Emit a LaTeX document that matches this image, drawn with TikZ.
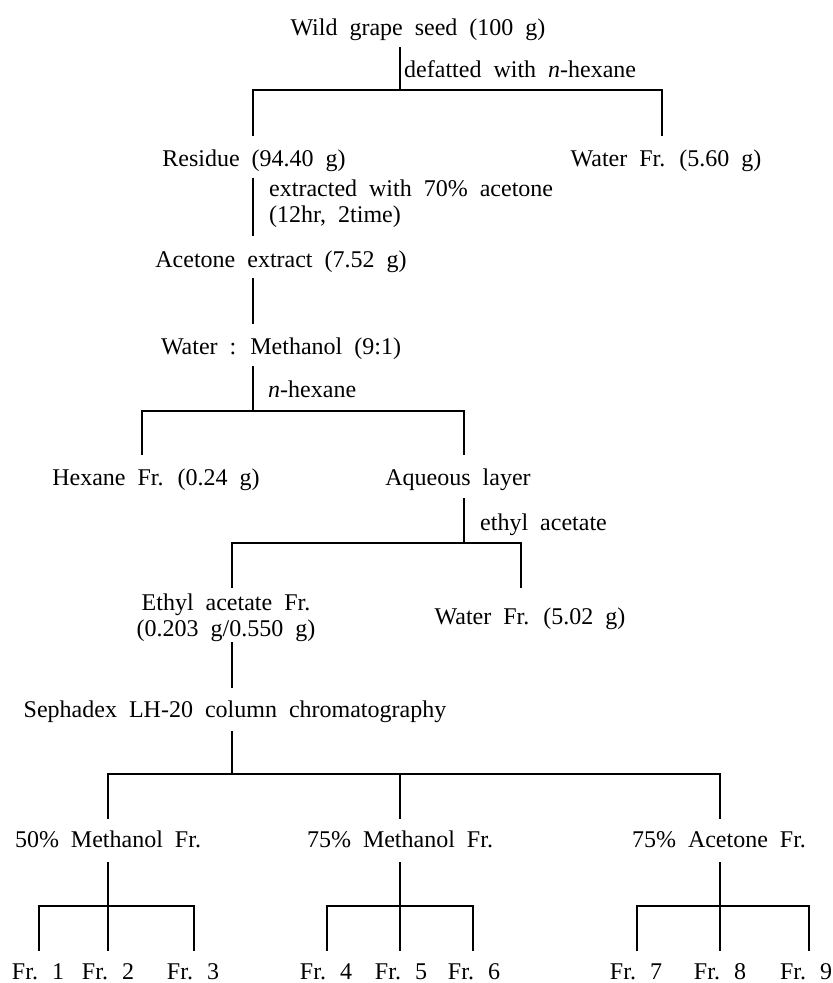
\documentclass[tikz,border=0pt]{standalone}
\usepackage{fontspec}
\setmainfont[WordSpace=2]{Liberation Serif}
\tikzset{
  lbl/.style={inner sep=0pt, anchor=base, font=\fontsize{24}{25.5}\selectfont},
  lblw/.style={inner sep=0pt, anchor=base west, font=\fontsize{24}{25.5}\selectfont},
  link/.style={line width=1.6pt, line cap=rect}
}
\begin{document}
\begin{tikzpicture}[x=1pt,y=-1pt]
\useasboundingbox (0,0) rectangle (833,983);
% ---- nodes ----
\node[lbl] (seed) at (418,35) {Wild grape seed (100 g)};
\node[lblw] (defat) at (404,77) {defatted with \textit{n}-hexane};
\node[lbl] (res) at (254,166) {Residue (94.40 g)};
\node[lbl] (wat1) at (666,166) {Water Fr. (5.60 g)};
\node[lblw, align=left, anchor=north west] (extr) at (269,180) {extracted with 70\% acetone\\(12hr, 2time)};
\node[lbl] (acet) at (281,267) {Acetone extract (7.52 g)};
\node[lbl] (wm) at (281,354) {Water : Methanol (9:1)};
\node[lblw] (nhex) at (268,397) {\textit{n}-hexane};
\node[lbl] (hexfr) at (156,485) {Hexane Fr. (0.24 g)};
\node[lbl] (aq) at (458,485) {Aqueous layer};
\node[lblw] (etac) at (480,530) {ethyl acetate};
\node[lbl, align=center, anchor=north] (eafr) at (226,594) {Ethyl acetate Fr.\\(0.203 g/0.550 g)};
\node[lbl] (wat2) at (530,624) {Water Fr. (5.02 g)};
\node[lbl] (seph) at (235,717) {Sephadex LH-20 column chromatography};
\node[lbl] (m50) at (108,847) {50\% Methanol Fr.};
\node[lbl] (m75) at (400,847) {75\% Methanol Fr.};
\node[lbl] (a75) at (719,847) {75\% Acetone Fr.};
\node[lbl] (f1) at (38,979) {Fr. 1};
\node[lbl] (f2) at (108,979) {Fr. 2};
\node[lbl] (f3) at (193,979) {Fr. 3};
\node[lbl] (f4) at (326,979) {Fr. 4};
\node[lbl] (f5) at (401,979) {Fr. 5};
\node[lbl] (f6) at (474,979) {Fr. 6};
\node[lbl] (f7) at (636,979) {Fr. 7};
\node[lbl] (f8) at (720,979) {Fr. 8};
\node[lbl] (f9) at (806,979) {Fr. 9};
% ---- connector end points ----
\coordinate (seed-o) at (400,48);  \coordinate (j1) at (400,90);
\coordinate (res-i) at (253,135);  \coordinate (wat1-i) at (662,135);
\coordinate (res-o) at (253,179);  \coordinate (acet-i) at (253,235);
\coordinate (acet-o) at (253,279); \coordinate (wm-i) at (253,323);
\coordinate (wm-o) at (253,367);   \coordinate (j2) at (253,411);
\coordinate (hexfr-i) at (142,454); \coordinate (aq-i) at (464,454);
\coordinate (aq-o) at (464,499);   \coordinate (j3) at (464,543);
\coordinate (eafr-i) at (232,587); \coordinate (wat2-i) at (521,587);
\coordinate (eafr-o) at (232,643); \coordinate (seph-i) at (232,687);
\coordinate (seph-o) at (232,732); \coordinate (j4) at (232,774);
\coordinate (m50-i) at (108,818); \coordinate (m75-i) at (400,818); \coordinate (a75-i) at (720,818);
\coordinate (m50-o) at (108,863); \coordinate (j5) at (108,906);
\coordinate (m75-o) at (400,863); \coordinate (j6) at (400,906);
\coordinate (a75-o) at (720,863); \coordinate (j7) at (720,906);
\coordinate (f1-i) at (39,950);  \coordinate (f2-i) at (108,950); \coordinate (f3-i) at (194,950);
\coordinate (f4-i) at (327,950); \coordinate (f5-i) at (400,950); \coordinate (f6-i) at (473,950);
\coordinate (f7-i) at (637,950); \coordinate (f8-i) at (720,950); \coordinate (f9-i) at (809,950);
% ---- connectors ----
\draw[link] (seed-o) -- (j1);
\draw[link] (res-i) |- (j1) -| (wat1-i);
\draw[link] (res-o) -- (acet-i);
\draw[link] (acet-o) -- (wm-i);
\draw[link] (wm-o) -- (j2);
\draw[link] (hexfr-i) |- (j2) -| (aq-i);
\draw[link] (aq-o) -- (j3);
\draw[link] (eafr-i) |- (j3) -| (wat2-i);
\draw[link] (eafr-o) -- (seph-i);
\draw[link] (seph-o) -- (j4);
\draw[link] (m50-i) |- (j4) -| (a75-i);
\draw[link] (m75-i) -- (m75-i |- j4);
\draw[link] (m50-o) -- (f2-i);
\draw[link] (f1-i) |- (j5) -| (f3-i);
\draw[link] (m75-o) -- (f5-i);
\draw[link] (f4-i) |- (j6) -| (f6-i);
\draw[link] (a75-o) -- (f8-i);
\draw[link] (f7-i) |- (j7) -| (f9-i);
\end{tikzpicture}
\end{document}
